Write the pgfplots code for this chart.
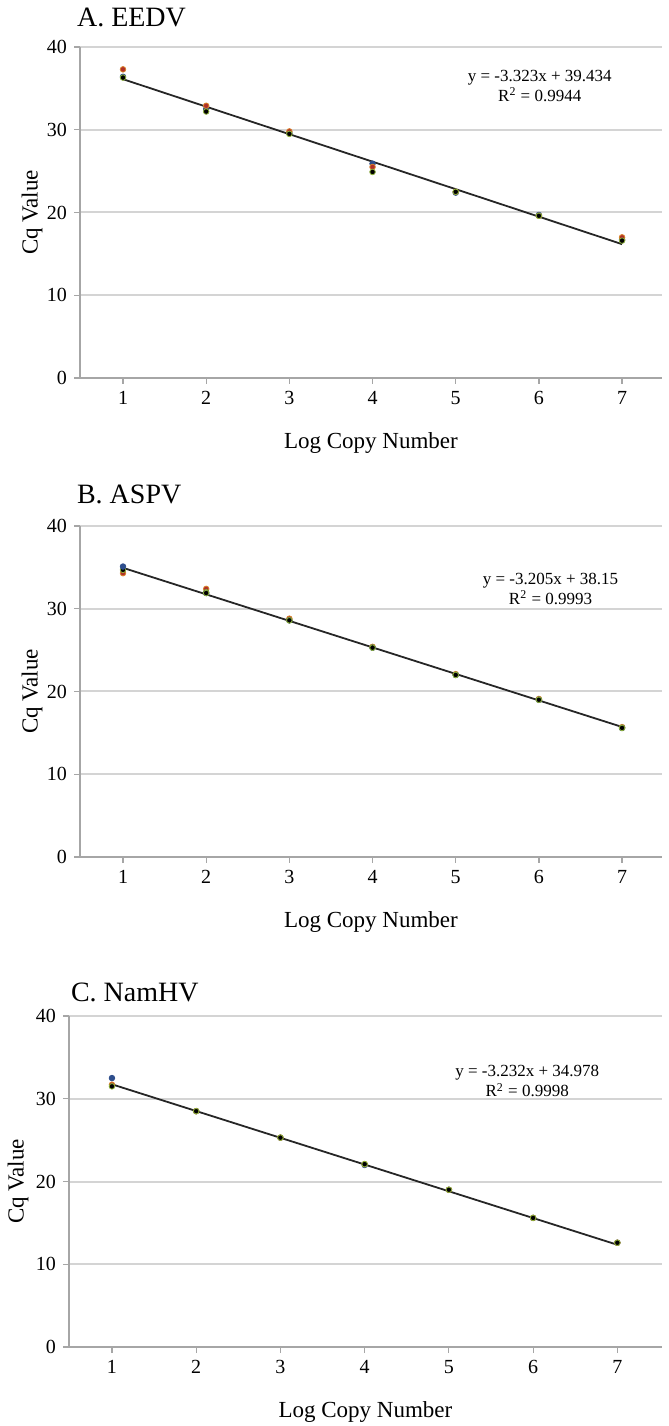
\documentclass[border=0pt]{standalone}
\usepackage{fontspec}
\setmainfont{Liberation Serif}
\usepackage{pgfplots}
\pgfplotsset{compat=1.18}
\definecolor{gridgray}{HTML}{D4D4D4}
\definecolor{axgray}{HTML}{A6A6A6}
\definecolor{sblue}{HTML}{2E4E8C}
\definecolor{sred}{HTML}{B0302A}
\definecolor{sgreen}{HTML}{8DB03A}
\definecolor{sorange}{HTML}{D9822B}
\tikzset{eq/.style={font=\fontsize{8.5}{10}\selectfont, align=center}}
\pgfplotsset{qpcr/.style={
  scale only axis, width=291pt, height=165.5pt,
  xmin=0.483, xmax=7.48, ymin=0, ymax=40,
  xtick={1,...,7}, ytick={0,10,20,30,40},
  axis x line=bottom, axis y line=left,
  axis line style={axgray, line width=0.8pt, -},
  ymajorgrids, grid style={gridgray, line width=1pt},
  tick style={axgray, line width=0.6pt}, tick align=outside, major tick length=3pt,
  tick label style={font=\fontsize{10}{12}\selectfont},
  /pgf/number format/assume math mode=true,
  xlabel={Log Copy Number}, ylabel={Cq Value},
  label style={font=\fontsize{11.5}{13}\selectfont},
  xlabel style={at={(axis description cs:0.5,-0.196)}, anchor=center},
  ylabel style={at={(axis description cs:-0.0825,0.5)}, anchor=center},
  clip=false,
},
rep1/.style={only marks, mark=*, mark size=1.4pt, mark options={fill=sblue, draw=sblue}},
rep2/.style={only marks, mark=*, mark size=1.4pt, mark options={fill=sred, draw=sorange}},
rep3/.style={only marks, mark=*, mark size=1.4pt, mark options={fill=black, draw=sgreen}},
trend/.style={no marks, black!85, line width=0.9pt},
}
\begin{document}
\begin{tikzpicture}
\path[use as bounding box] (0,0) rectangle (334.5pt,713pt);
% Panel A
\node[anchor=west, font=\fontsize{14}{16}\selectfont] at (35pt,704.5pt) {A. EEDV};
\begin{axis}[qpcr, at={(40pt,524pt)}, anchor=south west]
\addplot[rep1] coordinates {(1,36.4) (2,32.5) (3,29.6) (4,25.9) (5,22.4) (6,19.7) (7,16.7)};
\addplot[rep2] coordinates {(1,37.3) (2,32.9) (3,29.8) (4,25.5) (5,22.5) (6,19.6) (7,17.0)};
\addplot[rep3] coordinates {(1,36.3) (2,32.2) (3,29.5) (4,24.9) (5,22.5) (6,19.6) (7,16.6)};
\addplot[trend] coordinates {(1,36.111) (7,16.173)};
\node[eq] at (axis cs:6.01,35.3) {y = -3.323x + 39.434\\R\textsuperscript{2} = 0.9944};
\end{axis}
% Panel B
\node[anchor=west, font=\fontsize{14}{16}\selectfont] at (35pt,466pt) {B. ASPV};
\begin{axis}[qpcr, at={(40pt,284.5pt)}, anchor=south west]
\addplot[rep2] coordinates {(1,34.3) (2,32.4) (3,28.8) (4,25.4) (5,22.1) (6,19.1) (7,15.7)};
\addplot[rep3] coordinates {(1,34.7) (2,32.0) (3,28.6) (4,25.3) (5,22.0) (6,19.0) (7,15.6)};
\addplot[rep1] coordinates {(1,35.1) (2,31.9) (3,28.6) (4,25.3) (5,22.0) (6,19.0) (7,15.6)};
\addplot[rep3] coordinates {(2,31.9) (3,28.6) (4,25.3) (5,22.0) (6,19.0) (7,15.6)};
\addplot[trend] coordinates {(1,34.945) (7,15.715)};
\node[eq] at (axis cs:6.14,32.4) {y = -3.205x + 38.15\\R\textsuperscript{2} = 0.9993};
\end{axis}
% Panel C
\node[anchor=west, font=\fontsize{14}{16}\selectfont] at (32pt,217pt) {C. NamHV};
\begin{axis}[qpcr, at={(34.5pt,39.5pt)}, anchor=south west, width=296.5pt, xmin=0.49, xmax=7.53,
  ylabel style={at={(axis description cs:-0.086,0.5)}}]
\addplot[rep1] coordinates {(1,32.5) (2,28.5) (3,25.3) (4,22.0) (5,19.0) (6,15.6) (7,12.6)};
\addplot[rep2] coordinates {(1,31.7) (2,28.5) (3,25.3) (4,22.1) (5,19.0) (6,15.6) (7,12.6)};
\addplot[rep3] coordinates {(1,31.5) (2,28.5) (3,25.3) (4,22.1) (5,19.0) (6,15.6) (7,12.6)};
\addplot[trend] coordinates {(1,31.746) (7,12.354)};
\node[eq] at (axis cs:5.93,32.1) {y = -3.232x + 34.978\\R\textsuperscript{2} = 0.9998};
\end{axis}
\end{tikzpicture}
\end{document}
